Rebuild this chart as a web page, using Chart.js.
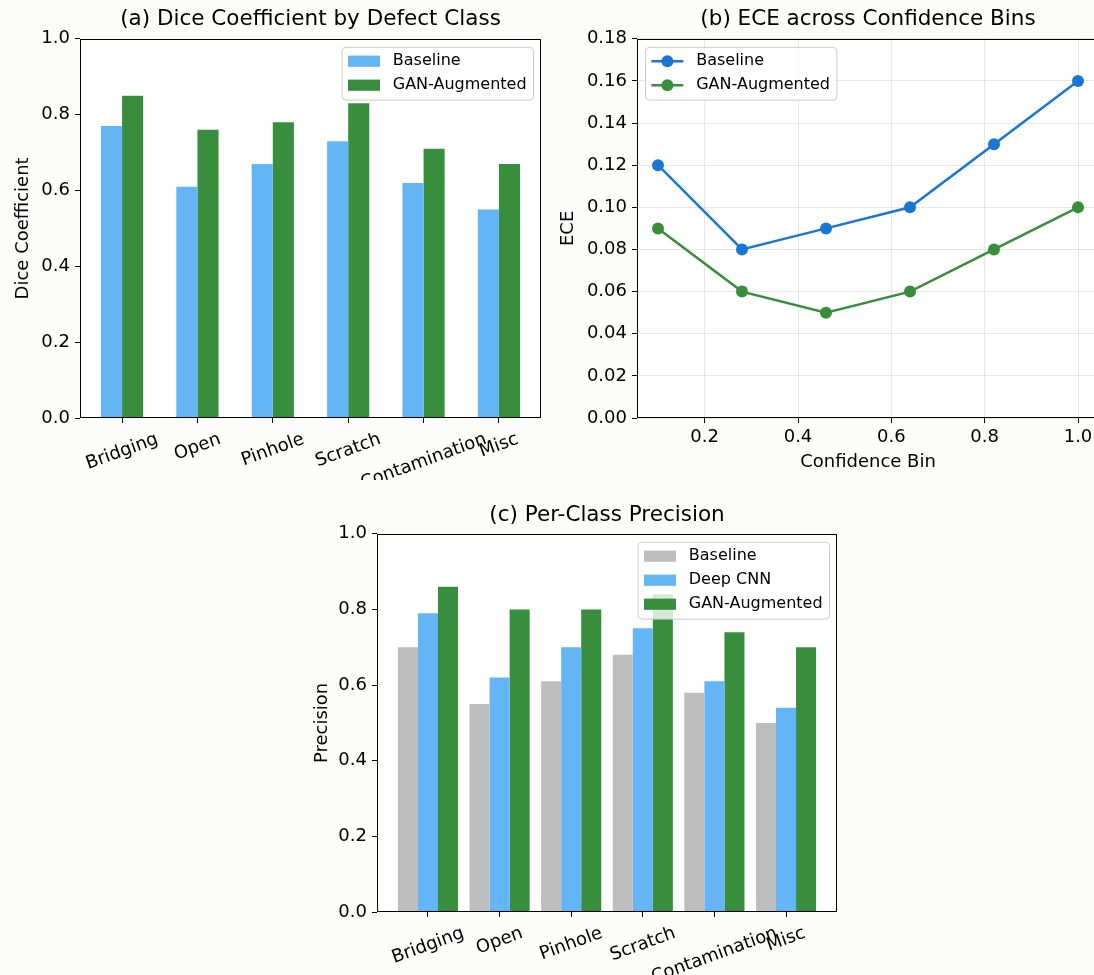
<!DOCTYPE html>
<html>
<head>
<meta charset="utf-8">
<title>Defect segmentation results</title>
<script src="https://cdn.jsdelivr.net/npm/chart.js@4.4.1/dist/chart.umd.min.js"></script>
<style>
  html, body { margin: 0; padding: 0; background: #fcfcfa; overflow: hidden; }
  #wrap { position: relative; width: 1094px; height: 975px; overflow: hidden; }
  canvas { position: absolute; }
</style>
</head>
<body>
<div id="wrap">
  <canvas id="diceChart" width="550" height="480" style="left:0px;top:0px"></canvas>
  <canvas id="eceChart" width="560" height="480" style="left:550px;top:0px"></canvas>
  <canvas id="precChart" width="560" height="495" style="left:300px;top:480px"></canvas>
</div>
<script>
// data
const classes = ['Bridging', 'Open', 'Pinhole', 'Scratch', 'Contamination', 'Misc'];
const diceBaseline = [0.77, 0.61, 0.67, 0.73, 0.62, 0.55];
const diceGan = [0.85, 0.76, 0.78, 0.83, 0.71, 0.67];

const confBins = [0.10, 0.28, 0.46, 0.64, 0.82, 1.00];
const eceBaseline = [0.12, 0.08, 0.09, 0.10, 0.13, 0.16];
const eceGan = [0.09, 0.06, 0.05, 0.06, 0.08, 0.10];

const precBaseline = [0.70, 0.55, 0.61, 0.68, 0.58, 0.50];
const precCnn = [0.79, 0.62, 0.70, 0.75, 0.61, 0.54];
const precGan = [0.86, 0.80, 0.80, 0.84, 0.74, 0.70];

const unitTicks = [0, 0.2, 0.4, 0.6, 0.8, 1.0];
const eceTicks = [0, 0.02, 0.04, 0.06, 0.08, 0.10, 0.12, 0.14, 0.16, 0.18];
const binTicks = [0.2, 0.4, 0.6, 0.8, 1.0];

const FONT = "'DejaVu Sans', sans-serif";
Chart.defaults.font.family = FONT;
Chart.defaults.color = '#000';

function points(xs, ys) {
    return xs.map((x, i) => ({ x: x, y: ys[i] }));
}

// white axes background + black box around the plot area
const axesFrame = {
    id: 'axesFrame',
    beforeDraw(chart) {
        const a = chart.chartArea, ctx = chart.ctx;
        ctx.save();
        ctx.fillStyle = '#ffffff';
        ctx.fillRect(a.left, a.top, a.right - a.left, a.bottom - a.top);
        ctx.restore();
    },
    afterDraw(chart) {
        const a = chart.chartArea, ctx = chart.ctx;
        const l = Math.round(a.left) + 0.5, t = Math.round(a.top) + 0.5;
        const r = Math.round(a.right) - 0.5, b = Math.round(a.bottom) - 0.5;
        ctx.save();
        ctx.strokeStyle = '#000';
        ctx.lineWidth = 1;
        ctx.strokeRect(l, t, r - l, b - t);
        ctx.restore();
    }
};

// category labels rotated and centred under their ticks (matplotlib style)
const slantedLabels = {
    id: 'slantedLabels',
    afterDraw(chart, args, opts) {
        if (!opts.labels) return;
        const ctx = chart.ctx, xs = chart.scales.x;
        const ang = opts.angle * Math.PI / 180;
        const h = opts.size * 1.16;
        ctx.save();
        ctx.font = opts.size + 'px ' + FONT;
        ctx.fillStyle = '#000';
        ctx.textAlign = 'center';
        ctx.textBaseline = 'middle';
        opts.labels.forEach((lab, i) => {
            const w = ctx.measureText(lab).width;
            const boxH = w * Math.sin(ang) + h * Math.cos(ang);
            ctx.save();
            ctx.translate(xs.getPixelForValue(i), chart.chartArea.bottom + opts.gap + boxH / 2);
            ctx.rotate(-ang);
            ctx.fillText(lab, 0, 0);
            ctx.restore();
        });
        ctx.restore();
    }
};

// legend box drawn inside the axes
const mplLegend = {
    id: 'mplLegend',
    afterDraw(chart, args, opts) {
        if (!opts.kind) return;
        const ctx = chart.ctx, a = chart.chartArea, em = opts.size;
        const items = chart.data.datasets;
        ctx.save();
        ctx.font = em + 'px ' + FONT;
        const textW = Math.max(...items.map(d => ctx.measureText(d.label).width));
        const pad = 0.4 * em, handleLen = 2 * em, handlePad = 0.8 * em, rowH = em, gapY = 0.5 * em, off = 0.5 * em;
        const w = pad * 2 + handleLen + handlePad + textW;
        const h = pad * 2 + items.length * rowH + (items.length - 1) * gapY;
        const left = opts.loc === 'left' ? a.left + off : a.right - off - w;
        const top = a.top + off;

        ctx.beginPath();
        ctx.roundRect(left + 0.5, top + 0.5, w, h, 0.25 * em);
        ctx.fillStyle = 'rgba(255,255,255,0.8)';
        ctx.fill();
        ctx.strokeStyle = '#cccccc';
        ctx.lineWidth = 1;
        ctx.stroke();

        items.forEach((d, i) => {
            const cy = top + pad + i * (rowH + gapY) + rowH / 2;
            const hx = left + pad;
            if (opts.kind === 'line') {
                ctx.strokeStyle = d.borderColor;
                ctx.lineWidth = d.borderWidth;
                ctx.beginPath();
                ctx.moveTo(hx, cy);
                ctx.lineTo(hx + handleLen, cy);
                ctx.stroke();
                ctx.fillStyle = d.pointBackgroundColor;
                ctx.beginPath();
                ctx.arc(hx + handleLen / 2, cy, d.pointRadius, 0, Math.PI * 2);
                ctx.fill();
            } else {
                ctx.fillStyle = d.backgroundColor;
                ctx.fillRect(hx, cy - 0.35 * em, handleLen, 0.7 * em);
            }
            ctx.fillStyle = '#000';
            ctx.textAlign = 'left';
            ctx.textBaseline = 'middle';
            ctx.fillText(d.label, hx + handleLen + handlePad, cy);
        });
        ctx.restore();
    }
};

function fixedTicks(values) {
    return function(scale) {
        scale.ticks = values.map(v => ({ value: v }));
    };
}

const tickGrid = { drawOnChartArea: false, offset: false, tickLength: 5, tickColor: '#000', lineWidth: 1 };
const lightGrid = { color: 'rgba(176,176,176,0.3)', tickLength: 5, tickColor: '#000', lineWidth: 1 };

function titleOpts(text, top, bottom) {
    return {
        display: true, text: text, fullSize: false, color: '#000',
        font: { size: 21.5, weight: 'normal' },
        padding: { top: top, bottom: bottom }
    };
}

function barOptions(cfg) {
    return {
        responsive: false,
        animation: false,
        devicePixelRatio: 1,
        events: [],
        categoryPercentage: cfg.catPct,
        barPercentage: 1,
        layout: { padding: { left: 0, right: cfg.padRight, top: 0, bottom: 0 } },
        scales: {
            x: {
                type: 'linear', min: cfg.xMin, max: cfg.xMax, bounds: 'data', offset: false,
                afterBuildTicks: fixedTicks(classes.map((c, i) => i)),
                afterFit: s => { s.height = cfg.xHeight; },
                grid: tickGrid,
                border: { display: false },
                ticks: { display: false }
            },
            y: {
                min: 0, max: 1, bounds: 'data',
                afterBuildTicks: fixedTicks(unitTicks),
                afterFit: s => { s.width = cfg.yWidth; },
                grid: tickGrid,
                border: { display: false },
                ticks: { callback: v => Number(v).toFixed(1), font: { size: 18 }, color: '#000', padding: 5 },
                title: { display: true, text: cfg.yTitle, font: { size: 18 }, color: '#000', padding: { top: cfg.yTitlePad, bottom: 0 } }
            }
        },
        plugins: {
            legend: { display: false },
            tooltip: { enabled: false },
            title: titleOpts(cfg.title, cfg.titleTop, cfg.titleBottom),
            mplLegend: { kind: 'patch', loc: 'right', size: 16 },
            slantedLabels: { labels: classes, angle: 20, size: 18, gap: 11 }
        }
    };
}

// (a) Dice coefficient
new Chart(document.getElementById('diceChart'), {
    type: 'bar',
    data: {
        datasets: [
            { label: 'Baseline', data: points(classes.map((c, i) => i), diceBaseline), backgroundColor: '#64b5f6', borderWidth: 0 },
            { label: 'GAN-Augmented', data: points(classes.map((c, i) => i), diceGan), backgroundColor: '#388e3c', borderWidth: 0 }
        ]
    },
    options: barOptions({
        catPct: 0.56, xMin: -0.558, xMax: 5.558, padRight: 9, xHeight: 62, yWidth: 80,
        yTitle: 'Dice Coefficient', yTitlePad: 13,
        title: '(a) Dice Coefficient by Defect Class', titleTop: 7, titleBottom: 6
    }),
    plugins: [axesFrame, slantedLabels, mplLegend]
});

// (b) ECE across confidence bins
new Chart(document.getElementById('eceChart'), {
    type: 'line',
    data: {
        datasets: [
            {
                label: 'Baseline', data: points(confBins, eceBaseline),
                borderColor: '#1976d2', backgroundColor: '#1976d2',
                pointBackgroundColor: '#1976d2', pointBorderColor: '#1976d2',
                borderWidth: 2.5, pointRadius: 6, pointBorderWidth: 0, tension: 0
            },
            {
                label: 'GAN-Augmented', data: points(confBins, eceGan),
                borderColor: '#388e3c', backgroundColor: '#388e3c',
                pointBackgroundColor: '#388e3c', pointBorderColor: '#388e3c',
                borderWidth: 2.5, pointRadius: 6, pointBorderWidth: 0, tension: 0
            }
        ]
    },
    options: {
        responsive: false,
        animation: false,
        devicePixelRatio: 1,
        events: [],
        layout: { padding: { left: 0, right: 11, top: 0, bottom: 0 } },
        scales: {
            x: {
                type: 'linear', min: 0.055, max: 1.045, bounds: 'data',
                afterBuildTicks: fixedTicks(binTicks),
                afterFit: s => { s.height = 62; },
                grid: lightGrid,
                border: { display: false },
                ticks: { callback: v => Number(v).toFixed(1), font: { size: 18 }, color: '#000', padding: 4, maxRotation: 0 },
                title: { display: true, text: 'Confidence Bin', font: { size: 18 }, color: '#000', padding: { top: 0, bottom: 7 } }
            },
            y: {
                min: 0, max: 0.18, bounds: 'data',
                afterBuildTicks: fixedTicks(eceTicks),
                afterFit: s => { s.width = 87; },
                grid: lightGrid,
                border: { display: false },
                ticks: { callback: v => Number(v).toFixed(2), font: { size: 18 }, color: '#000', padding: 5 },
                title: { display: true, text: 'ECE', font: { size: 18 }, color: '#000', padding: { top: 8, bottom: 0 } }
            }
        },
        plugins: {
            legend: { display: false },
            tooltip: { enabled: false },
            title: titleOpts('(b) ECE across Confidence Bins', 7, 6),
            mplLegend: { kind: 'line', loc: 'left', size: 16 }
        }
    },
    plugins: [axesFrame, mplLegend]
});

// (c) per-class precision
new Chart(document.getElementById('precChart'), {
    type: 'bar',
    data: {
        datasets: [
            { label: 'Baseline', data: points(classes.map((c, i) => i), precBaseline), backgroundColor: '#bdbdbd', borderWidth: 0 },
            { label: 'Deep CNN', data: points(classes.map((c, i) => i), precCnn), backgroundColor: '#64b5f6', borderWidth: 0 },
            { label: 'GAN-Augmented', data: points(classes.map((c, i) => i), precGan), backgroundColor: '#388e3c', borderWidth: 0 }
        ]
    },
    options: barOptions({
        catPct: 0.84, xMin: -0.712, xMax: 5.712, padRight: 23, xHeight: 63, yWidth: 77,
        yTitle: 'Precision', yTitlePad: 12,
        title: '(c) Per-Class Precision', titleTop: 23, titleBottom: 5
    }),
    plugins: [axesFrame, slantedLabels, mplLegend]
});
</script>
</body>
</html>
